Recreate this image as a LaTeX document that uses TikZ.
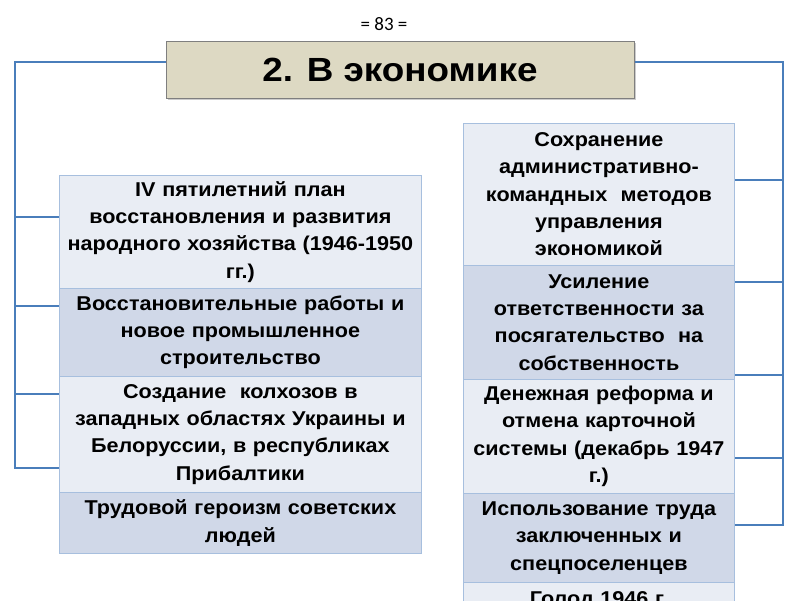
\documentclass[tikz,border=0pt]{standalone}
\usepackage{fontspec}
\setmainfont{Liberation Sans}
\newfontfamily\bodyfont[FakeStretch=1.08]{Liberation Sans}
\newfontfamily\titlefont[FakeStretch=1.1]{Liberation Sans}
\newfontfamily\numfont{Carlito}
\usetikzlibrary{calc,shadows}
\definecolor{connc}{HTML}{4A7EBB}
\definecolor{lightf}{HTML}{E9EDF4}
\definecolor{darkf}{HTML}{D0D8E8}
\definecolor{boxl}{HTML}{A7BFDE}
\definecolor{titlef}{HTML}{DDD9C3}
\definecolor{titlel}{HTML}{7F7F7F}
\tikzset{
  cn/.style={draw=connc, line width=2.2pt, line join=miter},
  bx/.style={draw=boxl, line width=0.8pt, inner ysep=0pt, inner xsep=2pt, anchor=north west, align=center,
     font=\bodyfont\fontsize{20}{27.3}\selectfont\bfseries},
  lbx/.style={bx, text width=358pt},
  rbx/.style={bx, text width=267pt},
  ttl/.style={draw=titlel, line width=1pt, fill=titlef, minimum width=468pt, minimum height=57pt,
     font=\titlefont\fontsize{33.5}{38}\selectfont\bfseries, inner sep=0pt,
     drop shadow={shadow xshift=2pt, shadow yshift=-2pt, opacity=0.4}}
}
\begin{document}
\begin{tikzpicture}[x=1pt,y=-1pt]
\useasboundingbox (0,0) rectangle (800,600);
\clip (0,0) rectangle (800,600);
\fill[white] (0,0) rectangle (800,600);

\node[font=\numfont\fontsize{19}{21}\selectfont] (num) at (384,24) {= 83 =};
\node[ttl] (t) at (400,69.5) {2. В экономике};

% left column
\node[lbx, fill=lightf, minimum height=113pt] (l1) at (59,175) {IV пятилетний план\\ восстановления и развития\\ народного хозяйства (1946-1950\\ гг.)};
\node[lbx, fill=darkf, minimum height=88pt] (l2) at (59,288) {Восстановительные работы и\\ новое промышленное\\ строительство};
\node[lbx, fill=lightf, minimum height=116pt] (l3) at (59,376) {Создание\ \ колхозов в\\ западных областях Украины и\\ Белоруссии, в республиках\\ Прибалтики};
\node[lbx, fill=darkf, minimum height=61pt] (l4) at (59,492) {Трудовой героизм советских\\ людей};

% right column
\node[rbx, fill=lightf, minimum height=142pt] (r1) at (463,123) {Сохранение\\ административно-\\ командных\ \ методов\\ управления\\ экономикой};
\node[rbx, fill=darkf, minimum height=114pt] (r2) at (463,265) {Усиление\\ ответственности за\\ посягательство\ \ на\\ собственность};
\node[rbx, fill=lightf, minimum height=114pt] (r3) at (463,379) {Денежная реформа и\\ отмена карточной\\ системы (декабрь 1947\\ г.)};
\node[rbx, fill=darkf, minimum height=89pt] (r4) at (463,493) {Использование труда\\ заключенных и\\ спецпоселенцев};
\node[rbx, fill=lightf, minimum height=36pt] (r5) at (463,582) {Голод 1946 г.};

% left bracket
\coordinate (ltop) at (15,62);
\coordinate (lbot) at (15,468);
\draw[cn] (t.west |- ltop) -- (ltop) -- (lbot) -- (l4.west |- lbot);
\draw[cn] (ltop |- 0,217) -- (l1.west |- 0,217);
\draw[cn] (ltop |- 0,306) -- (l2.west |- 0,306);
\draw[cn] (ltop |- 0,394) -- (l3.west |- 0,394);

% right bracket
\coordinate (rtop) at (783,62);
\coordinate (rbot) at (783,525);
\draw[cn] (t.east |- rtop) -- (rtop) -- (rbot) -- (r4.east |- rbot);
\draw[cn] (rtop |- 0,180) -- (r1.east |- 0,180);
\draw[cn] (rtop |- 0,282) -- (r2.east |- 0,282);
\draw[cn] (rtop |- 0,375) -- (r2.east |- 0,375);
\draw[cn] (rtop |- 0,458) -- (r3.east |- 0,458);
\end{tikzpicture}
\end{document}
